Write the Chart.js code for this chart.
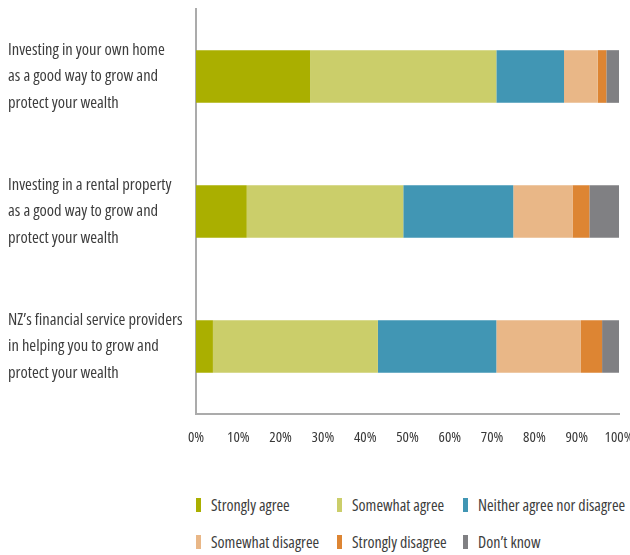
<!DOCTYPE html>
<html>
<head>
<meta charset="utf-8">
<script src="https://cdn.jsdelivr.net/npm/chart.js@4"></script>
<style>
    body { margin: 0; background: #fff; }
    .wrap { width: 630px; height: 555px; position: relative; }
    .chart-box { width: 630px; height: 460px; }
    .legend {
        position: absolute;
        left: 196px;
        top: 486px;
        display: grid;
        grid-template-columns: 141px 126px 170px;
        grid-auto-rows: 37px;
        font-family: "Open Sans", sans-serif;
        font-stretch: condensed;
        font-size: 16px;
        color: #3d3d3d;
    }
    .legend-item { display: flex; align-items: center; white-space: nowrap; }
    .legend-swatch { flex: 0 0 5px; width: 5px; height: 14px; margin-right: 10px; }
</style>
</head>
<body>
<div class="wrap">
    <div class="chart-box"><canvas id="likertChart"></canvas></div>
    <div class="legend" id="legend"></div>
</div>
<script>
const categories = [
    ['Investing in your own home', 'as a good way to grow and', 'protect your wealth'],
    ['Investing in a rental property', 'as a good way to grow and', 'protect your wealth'],
    ['NZ\u2019s financial service providers', 'in helping you to grow and', 'protect your wealth']
];

const responses = ['Strongly agree', 'Somewhat agree', 'Neither agree nor disagree',
    'Somewhat disagree', 'Strongly disagree', 'Don\u2019t know'];

const stronglyAgree = [27, 12, 4];
const somewhatAgree = [44, 37, 39];
const neither = [16, 26, 28];
const somewhatDisagree = [8, 14, 20];
const stronglyDisagree = [2, 4, 5];
const dontKnow = [3, 7, 4];

const tickValues = [0, 10, 20, 30, 40, 50, 60, 70, 80, 90, 100];

const colors = ['#aaaf00', '#cbce6a', '#4196b4', '#e9b787', '#dd8533', '#808083'];

// canvas font string ends up as "normal condensed 16px 'Open Sans'"
const fontFamily = "'Open Sans', sans-serif";
const fontWeight = 'condensed';

document.addEventListener('DOMContentLoaded', function() {
    initChart();
    initLegend();
});

function initChart() {
    const series = [stronglyAgree, somewhatAgree, neither, somewhatDisagree, stronglyDisagree, dontKnow];
    const ctx = document.getElementById('likertChart').getContext('2d');

    new Chart(ctx, {
        type: 'bar',
        data: {
            labels: categories,
            datasets: series.map((values, i) => ({
                label: responses[i],
                data: values,
                backgroundColor: colors[i],
                borderWidth: 0,
                barPercentage: 0.78,
                categoryPercentage: 0.5
            }))
        },
        options: {
            indexAxis: 'y',
            responsive: true,
            maintainAspectRatio: false,
            animation: false,
            layout: {
                padding: { left: 8, right: 11, top: 9, bottom: 0 }
            },
            plugins: {
                legend: { display: false },
                tooltip: { enabled: false }
            },
            scales: {
                x: {
                    stacked: true,
                    min: 0,
                    max: 100,
                    afterBuildTicks: (scale) => {
                        scale.ticks = tickValues.map(v => ({ value: v }));
                    },
                    afterFit: (scale) => {
                        scale.height = 46;
                        scale.paddingLeft = 0;
                        scale.paddingRight = 0;
                    },
                    grid: { display: false, drawTicks: false },
                    border: { display: true, color: '#ababab', width: 2 },
                    ticks: {
                        color: '#383838',
                        padding: 15,
                        maxRotation: 0,
                        font: { family: fontFamily, weight: fontWeight, size: 15 },
                        callback: (v) => v + '%'
                    }
                },
                y: {
                    stacked: true,
                    afterFit: (scale) => {
                        scale.width = 188;
                        scale.paddingTop = 0;
                        scale.paddingBottom = 0;
                    },
                    grid: { display: false, drawTicks: false },
                    border: { display: true, color: '#ababab', width: 2 },
                    ticks: {
                        color: '#3d3d3d',
                        crossAlign: 'far',
                        font: { family: fontFamily, weight: fontWeight, size: 16.5, lineHeight: 1.6 }
                    }
                }
            }
        }
    });
}

function initLegend() {
    const legend = document.getElementById('legend');
    responses.forEach((name, i) => {
        const item = document.createElement('div');
        item.className = 'legend-item';
        const swatch = document.createElement('span');
        swatch.className = 'legend-swatch';
        swatch.style.background = colors[i];
        const text = document.createElement('span');
        text.textContent = name;
        item.appendChild(swatch);
        item.appendChild(text);
        legend.appendChild(item);
    });
}
</script>
</body>
</html>
